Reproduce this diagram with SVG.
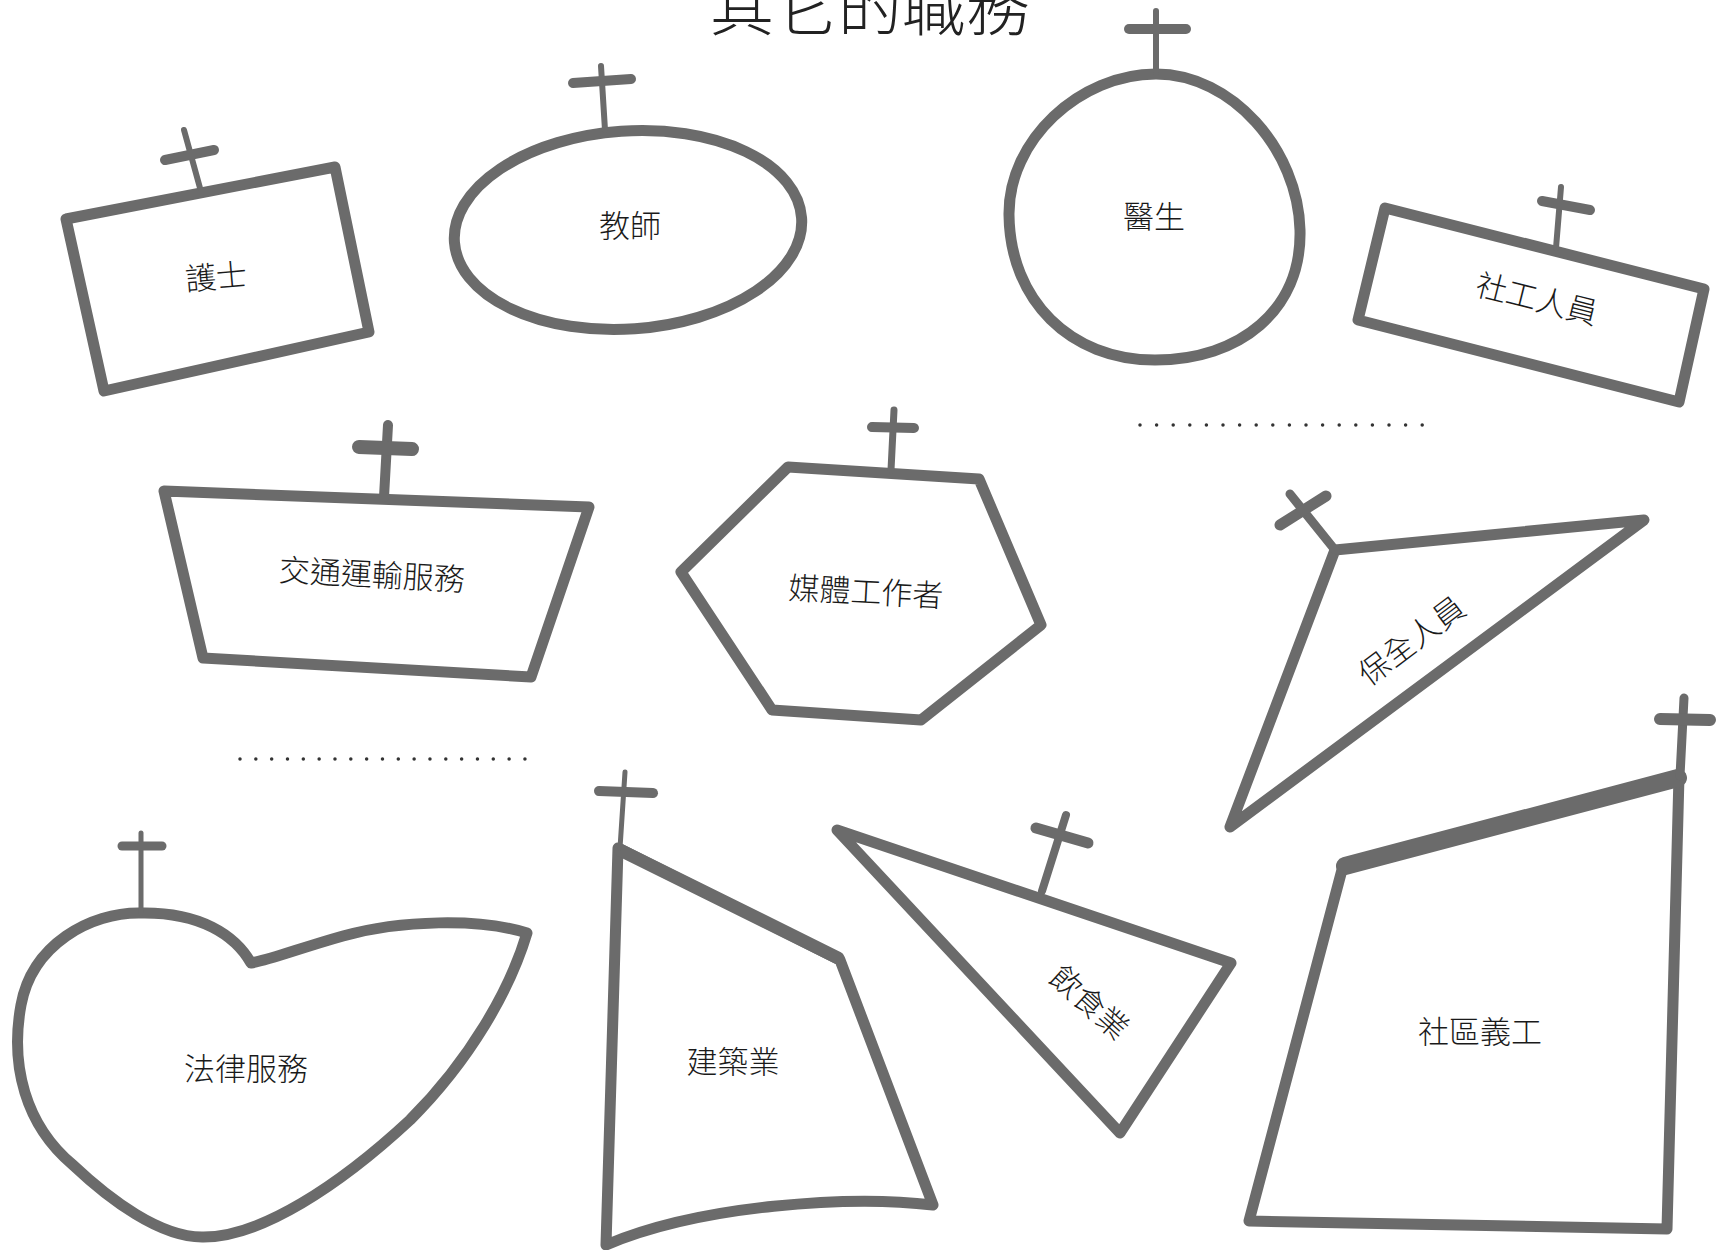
<svg xmlns="http://www.w3.org/2000/svg" width="1717" height="1250" viewBox="0 0 1717 1250">
<style>
.sh{fill:none;stroke:#6b6b6b;stroke-width:11;stroke-linejoin:round;stroke-linecap:round}
.thick{fill:none;stroke:#6b6b6b;stroke-width:16;stroke-linecap:round}
.stem{stroke:#6b6b6b;stroke-width:6;stroke-linecap:round;fill:none}
.bar{stroke:#6b6b6b;stroke-width:10;stroke-linecap:round;fill:none}
.lbl{font-family:"Noto Sans CJK TC","Noto Sans CJK SC",sans-serif;font-size:31px;font-weight:300;fill:#1a1a1a;text-anchor:middle}
.title{font-family:"Noto Sans CJK TC","Noto Sans CJK SC",sans-serif;font-size:64px;font-weight:300;fill:#222;text-anchor:middle}
.dots{stroke:#333;stroke-width:3.5;stroke-linecap:round;fill:none}
</style>
<rect width="1717" height="1250" fill="#fff"/>
<text class="title" x="870" y="30">其它的職務</text>

<g id="nurse">
<polygon class="sh" points="66,219 335,167 369,332 104,391"/>
<line class="stem" x1="200" y1="188" x2="184" y2="130"/>
<line class="bar" x1="165" y1="160" x2="214" y2="150"/>
<text class="lbl" x="216" y="288" transform="rotate(-5 216 276)">護士</text>
</g>

<g id="teacher">
<ellipse class="sh" cx="628" cy="230" rx="174" ry="99" transform="rotate(-4 628 230)"/>
<line class="stem" x1="605" y1="130" x2="601" y2="66"/>
<line class="bar" x1="573" y1="83" x2="631" y2="79"/>
<text class="lbl" x="630" y="237">教師</text>
</g>

<g id="doctor">
<path class="sh" d="M1156 74 C1232 74 1298 150 1300 230 C1302 310 1240 360 1155 360 C1070 360 1010 300 1009 215 C1008 140 1080 74 1156 74 Z"/>
<line class="stem" x1="1156" y1="72" x2="1156" y2="11"/>
<line class="bar" x1="1129" y1="29" x2="1186" y2="29"/>
<text class="lbl" x="1154" y="228">醫生</text>
</g>

<g id="social-worker">
<polygon class="sh" points="1385,208 1704,289 1679,402 1358,320"/>
<line class="stem" x1="1556" y1="248" x2="1561" y2="187"/>
<line class="bar" x1="1542" y1="201" x2="1590" y2="210"/>
<text class="lbl" x="1537" y="310" transform="rotate(14 1537 298)">社工人員</text>
</g>

<line class="dots" x1="1140" y1="425" x2="1425" y2="425" stroke-dasharray="0 16.6"/>

<g id="transport">
<polygon class="sh" points="164,491 589,507 531,677 203,658"/>
<line class="stem" x1="384" y1="497" x2="388" y2="425" style="stroke-width:10"/>
<line class="bar" x1="359" y1="447" x2="412" y2="449" style="stroke-width:14"/>
<text class="lbl" x="372" y="586" transform="rotate(3 372 574)">交通運輸服務</text>
</g>

<g id="media">
<polygon class="sh" points="788,467 979,479 1041,625 921,720 772,710 681,572"/>
<line class="stem" x1="891" y1="470" x2="894" y2="410" style="stroke-width:7"/>
<line class="bar" x1="872" y1="427" x2="914" y2="428"/>
<text class="lbl" x="866" y="603" transform="rotate(3 866 591)">媒體工作者</text>
</g>

<g id="security">
<polygon class="sh" points="1335,550 1644,520 1230,827"/>
<line class="stem" x1="1335" y1="550" x2="1290" y2="494" style="stroke-width:9"/>
<line class="bar" x1="1280" y1="525" x2="1326" y2="496" style="stroke-width:11"/>
<text class="lbl" x="1411" y="652" transform="rotate(-37 1411 640)">保全人員</text>
</g>

<line class="dots" x1="240" y1="759" x2="527" y2="759" stroke-dasharray="0 15.83"/>

<g id="legal">
<path class="sh" d="M141 913 C90 912 32 945 21 1005 C10 1065 25 1125 73 1165 C110 1200 160 1237 202 1237 C260 1238 340 1185 410 1120 C470 1060 510 990 527 933 C480 918 400 920 343 936 C300 948 270 960 251 963 C235 935 200 912 141 913 Z"/>
<line class="stem" x1="141" y1="913" x2="141" y2="833" style="stroke-width:5"/>
<line class="bar" x1="122" y1="846" x2="162" y2="846" style="stroke-width:9"/>
<text class="lbl" x="246" y="1080">法律服務</text>
</g>

<g id="construction">
<path class="sh" d="M618 848 L840 960 L933 1205 C850 1195 700 1205 606 1245 Z"/>
<line class="thick" x1="620" y1="850" x2="838" y2="958" style="stroke-width:13"/>
<line class="stem" x1="620" y1="848" x2="625" y2="772" style="stroke-width:5"/>
<line class="bar" x1="599" y1="791" x2="653" y2="793"/>
<text class="lbl" x="733" y="1073">建築業</text>
</g>

<g id="food">
<polygon class="sh" points="837,830 1231,963 1120,1133"/>
<line class="stem" x1="1042" y1="891" x2="1066" y2="815" style="stroke-width:8"/>
<line class="bar" x1="1036" y1="828" x2="1088" y2="843" style="stroke-width:11"/>
<text class="lbl" x="1090" y="1014" transform="rotate(42 1090 1002)">飲食業</text>
</g>

<g id="community">
<polygon class="sh" points="1343,866 1679,776 1667,1229 1249,1221"/>
<line class="thick" x1="1345" y1="866" x2="1678" y2="778" style="stroke-width:18"/>
<line class="stem" x1="1680" y1="776" x2="1684" y2="698" style="stroke-width:9"/>
<line class="bar" x1="1660" y1="719" x2="1710" y2="720" style="stroke-width:12"/>
<text class="lbl" x="1480" y="1043">社區義工</text>
</g>

<g id="connectors"/>
</svg>
